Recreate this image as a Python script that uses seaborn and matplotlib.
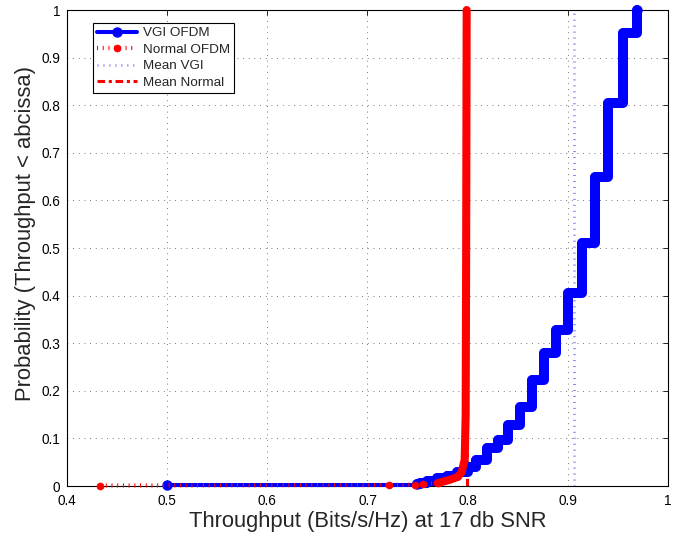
import numpy as np
import pandas as pd
import matplotlib
matplotlib.use("Agg")
import matplotlib.pyplot as plt
import seaborn as sns
from matplotlib.lines import Line2D

# ---------------- data ----------------
# VGI OFDM: distinct throughput values and the CDF reached at each value
vgi_x = [0.500, 0.749, 0.752, 0.759, 0.769, 0.779, 0.789, 0.800, 0.808,
         0.819, 0.830, 0.840, 0.852, 0.864, 0.876, 0.888, 0.900, 0.914,
         0.927, 0.940, 0.955, 0.969]
vgi_p = [0.002, 0.004, 0.006, 0.010, 0.016, 0.022, 0.030, 0.040, 0.055,
         0.080, 0.097, 0.128, 0.166, 0.223, 0.279, 0.328, 0.405, 0.510,
         0.649, 0.805, 0.952, 1.000]
# Normal OFDM: sparse low tail, then dense body near 0.8
normal_x = [0.433, 0.721, 0.747, 0.755, 0.770, 0.782, 0.790, 0.794, 0.797,
            0.798, 0.7985, 0.799]
normal_p = [0.001, 0.002, 0.003, 0.004, 0.006, 0.013, 0.019, 0.029, 0.055,
            0.150, 0.500, 1.000]
normal_dense_start = 4           # index where markers merge into a solid band
vgi_dense_start = 1

mean_vgi = 0.906
mean_normal = 0.799

series_labels = ["VGI OFDM", "Normal OFDM", "Mean VGI", "Mean Normal"]
x_label = "Throughput (Bits/s/Hz) at 17 db SNR"
y_label = "Probability (Throughput < abcissa)"
x_ticks = [0.4, 0.5, 0.6, 0.7, 0.8, 0.9, 1.0]
x_tick_labels = ["0.4", "0.5", "0.6", "0.7", "0.8", "0.9", "1"]
y_ticks = [0, 0.1, 0.2, 0.3, 0.4, 0.5, 0.6, 0.7, 0.8, 0.9, 1.0]
y_tick_labels = ["0", "0.1", "0.2", "0.3", "0.4", "0.5", "0.6", "0.7", "0.8", "0.9", "1"]

# ---------------- styling ----------------
sns.set_theme(style="white")
plt.rcParams["font.family"] = ["Liberation Sans", "DejaVu Sans"]

BLUE = "#0000ff"
RED = "#ff0000"

fig = plt.figure(figsize=(6.89, 5.33), dpi=100)
ax = fig.add_axes([67 / 689, (533 - 486) / 533, (668 - 67) / 689, (486 - 10) / 533])


def step_path(xs, ps):
    xs = np.asarray(xs, float)
    ps = np.asarray(ps, float)
    prev = np.r_[ps[0], ps[:-1]]
    sx = np.repeat(xs, 2)
    sy = np.column_stack([prev, ps]).ravel()
    return pd.DataFrame({"x": sx, "y": sy})


vgi_df = step_path(vgi_x, vgi_p)
vgi_dense = step_path(vgi_x[vgi_dense_start:], vgi_p[vgi_dense_start:])
norm_df = pd.DataFrame({"x": normal_x, "y": normal_p})
norm_dense = norm_df.iloc[normal_dense_start:]

# mean lines (drawn beneath the curves)
sns.lineplot(x=[mean_vgi, mean_vgi], y=[0, 1], ax=ax, color=BLUE, alpha=0.5,
             lw=2.0, linestyle=(0, (0.35, 1.8)), sort=False, estimator=None,
             zorder=2, legend=False)
sns.lineplot(x=[mean_normal, mean_normal], y=[0, 1], ax=ax, color=RED,
             lw=2.2, linestyle=(0, (2.5, 1.2, 1, 1.2)), sort=False,
             estimator=None, zorder=2, legend=False)

# VGI OFDM
sns.lineplot(data=vgi_df, x="x", y="y", ax=ax, color=BLUE, lw=2.9,
             sort=False, estimator=None, zorder=3, legend=False)
sns.lineplot(data=vgi_dense, x="x", y="y", ax=ax, color=BLUE, lw=7.2,
             sort=False, estimator=None, zorder=3, legend=False)
ax.plot(vgi_x, vgi_p, linestyle="none", marker="o", ms=6.5, mew=1,
        color=BLUE, zorder=3, clip_on=False)

# Normal OFDM
sns.lineplot(data=norm_df, x="x", y="y", ax=ax, color=RED, lw=3.0,
             linestyle=(0, (0.25, 1.12)), sort=False, estimator=None,
             zorder=4, legend=False)
sns.lineplot(data=norm_dense, x="x", y="y", ax=ax, color=RED, lw=5.8,
             sort=False, estimator=None, zorder=4, legend=False)
ax.plot(normal_x[:normal_dense_start + 1], normal_p[:normal_dense_start + 1],
        linestyle="none", marker="o", ms=5, mew=0.5, color=RED, zorder=4,
        clip_on=False)

for ln in ax.lines:
    ln.set_clip_on(False)
    ln.set_solid_joinstyle("round")
    ln.set_solid_capstyle("round")

# axes
ax.set_xlim(0.4, 1.0)
ax.set_ylim(0, 1)
ax.set_xticks(x_ticks)
ax.set_xticklabels(x_tick_labels)
ax.set_yticks(y_ticks)
ax.set_yticklabels(y_tick_labels)
ax.tick_params(direction="in", length=3.6, width=0.6, top=True, right=True,
               labelsize=9.8, colors="black")
ax.tick_params(axis="x", pad=6)
ax.tick_params(axis="y", pad=5)
ax.grid(True, color="0.3", lw=0.6, linestyle=(0, (1, 5.8)))
ax.set_axisbelow(True)
for s in ax.spines.values():
    s.set_color("black")
    s.set_linewidth(0.8)
    s.set_zorder(2.5)

ax.set_xlabel(x_label, fontsize=15.8, labelpad=2)
ax.set_ylabel(y_label, fontsize=15.8)
ax.yaxis.set_label_coords(-0.052, 0.53)

handles = [
    Line2D([], [], color=BLUE, lw=2.9, marker="o", ms=6.5, mew=1),
    Line2D([], [], color=RED, lw=3.0, linestyle=(0, (0.25, 1.12)), marker="o", ms=5, mew=0.5),
    Line2D([], [], color=BLUE, alpha=0.5, lw=2.0, linestyle=(0, (0.35, 1.8))),
    Line2D([], [], color=RED, lw=2.2, linestyle=(0, (2.5, 1.2, 1, 1.2))),
]
leg = ax.legend(handles, series_labels, loc="upper left",
                bbox_to_anchor=(0.043, 0.973), borderaxespad=0, fontsize=9.7,
                handlelength=3.0, handletextpad=0.4, labelspacing=0.3,
                borderpad=0.3, fancybox=False, framealpha=1, edgecolor="black")
leg.get_frame().set_linewidth(0.8)

fig.savefig("out.png", dpi=100, facecolor="white")
